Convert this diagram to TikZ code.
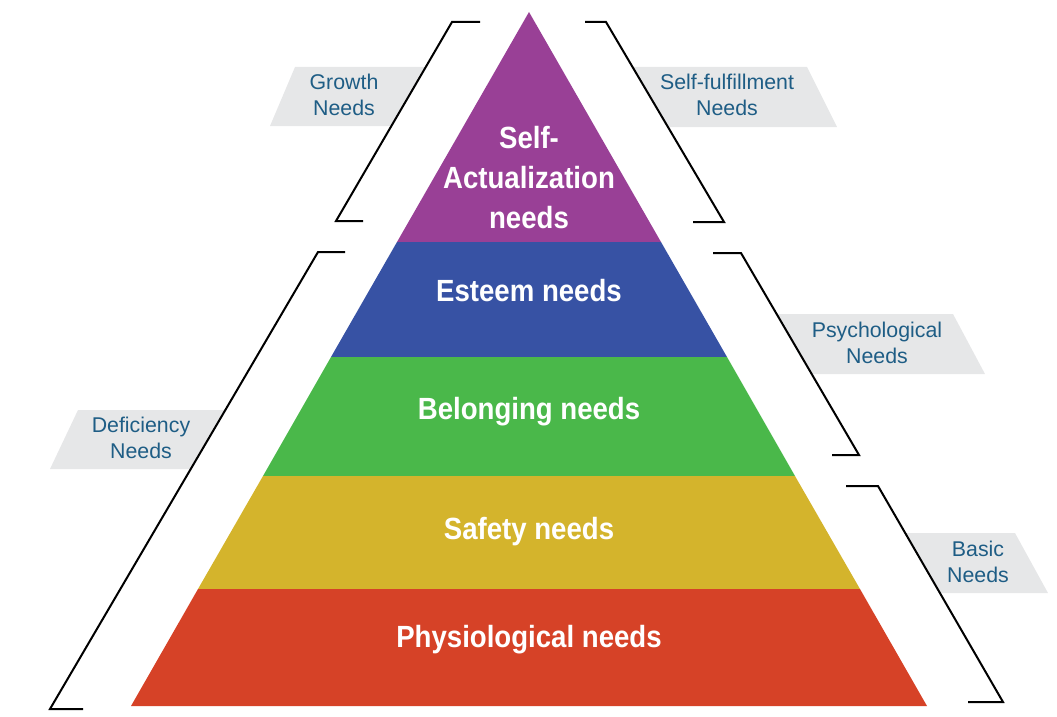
\documentclass[tikz,border=0pt]{standalone}
\usepackage{fontspec}
\setmainfont{Liberation Sans}
\newfontfamily\condbold[FakeStretch=0.9]{Liberation Sans Bold}
\definecolor{cPurple}{RGB}{153,64,150}
\definecolor{cBlue}{RGB}{55,82,164}
\definecolor{cGreen}{RGB}{74,184,74}
\definecolor{cYellow}{RGB}{212,180,44}
\definecolor{cRed}{RGB}{214,66,39}
\definecolor{cLabel}{RGB}{30,93,133}
\definecolor{cGray}{RGB}{230,231,232}
\begin{document}
\begin{tikzpicture}[x=0.75pt,y=-0.75pt,
  layertext/.style={text=white,font=\condbold\fontsize{23}{30}\selectfont,align=center,inner sep=0pt},
  labeltext/.style={text=cLabel,font=\fontsize{16}{19}\selectfont,align=center,inner sep=0pt},
  labelbox/.style={fill=cGray,draw=none},
  bracket/.style={draw=black,line width=1.5pt,line join=miter}]
\useasboundingbox (0,0) rectangle (1057,717);
% pyramid layers
\fill[cPurple] (529,12) -- (397,242) -- (661,242) -- cycle;
\fill[cBlue] (397,242) -- (331,357) -- (727,357) -- (661,242) -- cycle;
\fill[cGreen] (331,357) -- (263,476) -- (795,476) -- (727,357) -- cycle;
\fill[cYellow] (263,476) -- (198,589) -- (860,589) -- (795,476) -- cycle;
\fill[cRed] (198,589) -- (131,706) -- (927,706) -- (860,589) -- cycle;
% layer texts
\node[layertext] (sa) at (529,178) {Self-\\Actualization\\needs};
\node[layertext] (es) at (529,291) {Esteem needs};
\node[layertext] (be) at (529,412) {Belonging needs};
\node[layertext] (sf) at (529,532) {Safety needs};
\node[layertext] (ph) at (529,640) {Physiological needs};
% label boxes
\fill[cGray] (295,67) -- (426,67) -- (391,126) -- (270,126) -- cycle;
\fill[cGray] (633,67) -- (807,67) -- (837,127) -- (668,127) -- cycle;
\fill[cGray] (78,410) -- (225,410) -- (191,469) -- (50,469) -- cycle;
\fill[cGray] (777,314) -- (953,314) -- (985,374) -- (812,374) -- cycle;
\fill[cGray] (905,533) -- (1015,533) -- (1048,593) -- (940,593) -- cycle;
% brackets
\coordinate (g1) at (480,22); \coordinate (g2) at (452,22);
\coordinate (g3) at (336,221); \coordinate (g4) at (363,221);
\draw[bracket] (g1) -- (g2) -- (g3) -- (g4);
\coordinate (s1) at (585,22); \coordinate (s2) at (606,22);
\coordinate (s3) at (724,222); \coordinate (s4) at (693,222);
\draw[bracket] (s1) -- (s2) -- (s3) -- (s4);
\coordinate (d1) at (345,252); \coordinate (d2) at (318,252);
\coordinate (d3) at (50,709); \coordinate (d4) at (83,709);
\draw[bracket] (d1) -- (d2) -- (d3) -- (d4);
\coordinate (p1) at (713,253); \coordinate (p2) at (741,253);
\coordinate (p3) at (859,455); \coordinate (p4) at (832,455);
\draw[bracket] (p1) -- (p2) -- (p3) -- (p4);
\coordinate (b1) at (846,486); \coordinate (b2) at (878,486);
\coordinate (b3) at (1003,702); \coordinate (b4) at (968,702);
\draw[bracket] (b1) -- (b2) -- (b3) -- (b4);
% labels
\node[labeltext] (gn) at (344,95) {Growth\\Needs};
\node[labeltext] (sn) at (727,95) {Self-fulfillment\\Needs};
\node[labeltext] (dn) at (141,438) {Deficiency\\Needs};
\node[labeltext] (pn) at (877,343) {Psychological\\Needs};
\node[labeltext] (bn) at (978,562) {Basic\\Needs};
\end{tikzpicture}
\end{document}
